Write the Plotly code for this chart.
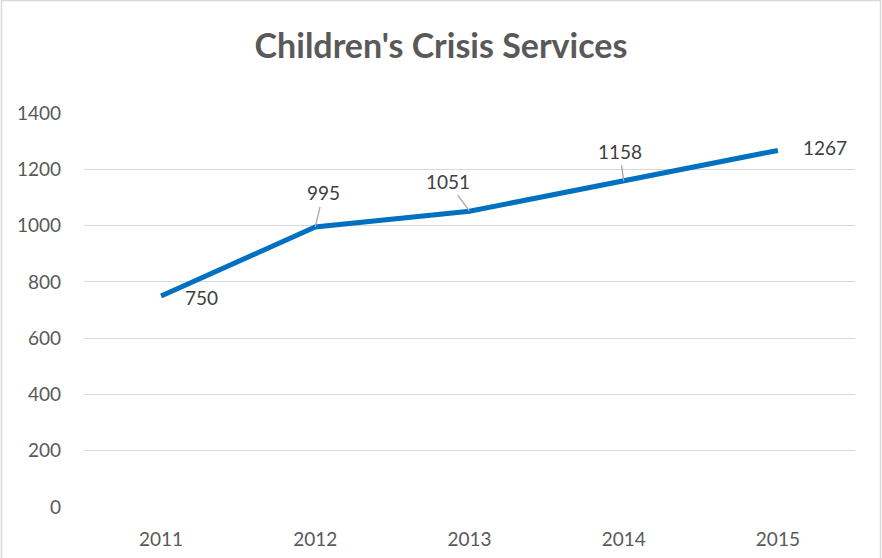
import plotly.graph_objects as go

years = ["2011", "2012", "2013", "2014", "2015"]
values = [750, 995, 1051, 1158, 1267]
y_ticks = [0, 200, 400, 600, 800, 1000, 1200, 1400]
title = "Children's Crisis Services"

W, H = 882, 558
L, R, T, B = 84, 27, 113, 51
pw, ph = W - L - R, H - T - B
FONT = "Lato, Carlito, Calibri, sans-serif"

fig = go.Figure()
fig.add_trace(go.Scatter(
    x=years, y=values, mode="lines",
    line=dict(color="#0070C0", width=5, shape="linear"),
    hoverinfo="skip", showlegend=False,
))

label_font = dict(family=FONT, size=19, color="#404040")
# (ax, ay, leader)
offsets = [(40, 2, False), (8, -34, True), (-22, -30, True), (-4, -30, True), (47, -3, False)]
for i, (v, (ax, ay, leader)) in enumerate(zip(values, offsets)):
    if leader:
        fig.add_annotation(x=i, y=v, text=str(v), showarrow=True, arrowhead=0,
                           arrowwidth=1.3, arrowcolor="#A6A6A6", ax=ax, ay=ay,
                           standoff=0, startstandoff=1, font=label_font)
    else:
        fig.add_annotation(x=i, y=v, text=str(v), showarrow=False,
                           xshift=ax, yshift=-ay, font=label_font)

# chart border
fig.add_shape(type="rect", xref="paper", yref="paper",
              x0=(1.5 - L) / pw, x1=(W - 1.5 - L) / pw,
              y0=(T + ph - (H + 5)) / ph, y1=(T + ph - 0.5) / ph,
              line=dict(color="#D9D9D9", width=1.5), layer="below")

fig.update_layout(
    width=W, height=H,
    margin=dict(l=L, r=R, t=T, b=B, pad=0, autoexpand=False),
    paper_bgcolor="white", plot_bgcolor="white",
    title=dict(text=title, x=0.5, xanchor="center", y=1 - 46 / H, yanchor="middle",
               font=dict(family=FONT, size=34, color="#595959", weight="bold")),
    font=dict(family=FONT),
    xaxis=dict(type="category", range=[-0.5, 4.5], autorange=False, showgrid=False,
               showline=False, zeroline=False, automargin=False,
               ticks="", tickfont=dict(size=19, color="#595959"), ticklabelstandoff=19),
    yaxis=dict(range=[0, 1400], autorange=False, tickvals=y_ticks, showgrid=True,
               gridcolor="#D9D9D9", gridwidth=1.2, zeroline=False, showline=False, ticks="",
               automargin=False,
               tickfont=dict(size=19, color="#595959"), ticklabelstandoff=22),
)

fig.write_html("out.html", config={"displayModeBar": False},
               post_script="document.body.style.margin='0';")
